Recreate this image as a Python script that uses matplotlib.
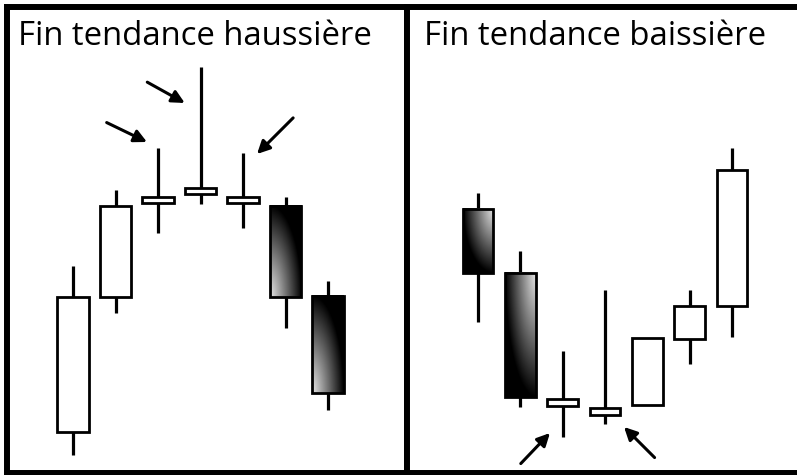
import numpy as np
import matplotlib.pyplot as plt
from matplotlib.patches import Rectangle

# open / high / low / close of each candle
hausse_open = [4.3, 17.8, 27.2, 28.1, 27.2, 26.9, 17.9]
hausse_high = [20.9, 28.5, 32.7, 40.8, 32.2, 27.8, 19.4]
hausse_low = [2.0, 16.2, 24.2, 27.1, 24.7, 14.7, 6.5]
hausse_close = [17.8, 26.9, 27.8, 28.7, 27.8, 17.8, 8.2]

baisse_open = [26.6, 20.2, 6.9, 6.0, 7.0, 13.6, 16.9]
baisse_high = [28.2, 22.4, 12.4, 18.5, 13.7, 18.5, 32.7]
baisse_low = [15.3, 6.8, 3.8, 5.1, 7.0, 11.1, 13.8]
baisse_close = [20.2, 7.8, 7.6, 6.7, 13.7, 16.9, 30.5]

titles = ["Fin tendance haussière", "Fin tendance baissière"]

# arrows: (tip x, tip y) in data units, (dx, dy) tail offset in points
hausse_arrows = [((1.74, 33.3), (-29, 14)),
                 ((2.63, 37.2), (-27, 15)),
                 ((4.33, 32.1), (26, 26))]
baisse_arrows = [((1.70, 4.2), (-21, -22)),
                 ((3.45, 4.8), (22, -22))]

W = 0.73


def gradient(corner):
    u = np.linspace(0, 1, 60)
    v = np.linspace(0, 1, 200)
    uu, vv = np.meshgrid(u, v)
    if corner == 'bl':
        t = np.sqrt(uu ** 2 + vv ** 2)
    else:
        t = np.sqrt((1 - uu) ** 2 + (1 - vv) ** 2)
    return 0.9 * np.clip(1 - t, 0, 1)


def draw_candles(ax, o, h, l, c, corner):
    for i in range(len(o)):
        ax.plot([i, i], [l[i], h[i]], color='black', lw=2.3,
                solid_capstyle='butt', zorder=1)
        bottom = min(o[i], c[i])
        height = abs(c[i] - o[i])
        if c[i] >= o[i]:
            ax.add_patch(Rectangle((i - W / 2, bottom), W, height,
                                   facecolor='white', edgecolor='black',
                                   lw=2.0, zorder=3))
        else:
            ax.imshow(gradient(corner), cmap='gray', vmin=0, vmax=1,
                      origin='lower', aspect='auto', interpolation='bilinear',
                      extent=(i - W / 2, i + W / 2, bottom, bottom + height),
                      zorder=2)
            ax.add_patch(Rectangle((i - W / 2, bottom), W, height,
                                   facecolor='none', edgecolor='black',
                                   lw=2.0, zorder=3))


def draw_arrows(ax, arrows):
    for tip, off in arrows:
        ax.annotate('', xy=tip, xytext=off, textcoords='offset points',
                    arrowprops=dict(arrowstyle='-|>', color='black', lw=2.2,
                                    mutation_scale=19, shrinkA=0, shrinkB=0))


fig = plt.figure(figsize=(7.97, 4.75), dpi=100)
ax1 = fig.add_axes([7 / 797, 2 / 475, 399.5 / 797, 466 / 475])
ax2 = fig.add_axes([406.5 / 797, 2 / 475, 393.5 / 797, 466 / 475])

draw_candles(ax1, hausse_open, hausse_high, hausse_low, hausse_close, 'bl')
draw_candles(ax2, baisse_open, baisse_high, baisse_low, baisse_close, 'tr')
draw_arrows(ax1, hausse_arrows)
draw_arrows(ax2, baisse_arrows)

ax1.set_xlim(-1.553, 7.847)
ax2.set_xlim(-1.689, 7.607)
for ax in (ax1, ax2):
    ax.set_ylim(0.2, 46.8)
    ax.set_xticks([])
    ax.set_yticks([])
    for s in ax.spines.values():
        s.set_linewidth(4.3)
ax2.spines['right'].set_visible(False)

ax1.text(0.0275, 0.918, titles[0], transform=ax1.transAxes, fontsize=23.7,
         family='Open Sans', va='baseline')
ax2.text(0.0445, 0.918, titles[1], transform=ax2.transAxes, fontsize=23.7,
         family='Open Sans', va='baseline')

fig.savefig('out.png', dpi=100)
